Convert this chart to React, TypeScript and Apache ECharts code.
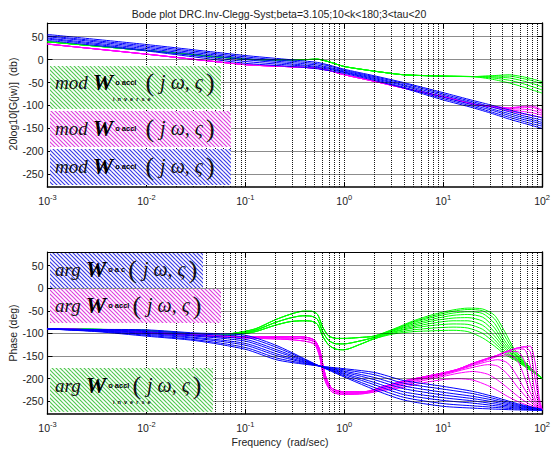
import React, { useEffect, useRef } from 'react';
import * as echarts from 'echarts';

const TITLE = 'Bode plot DRC.Inv-Clegg-Syst;beta=3.105;10<k<180;3<tau<20';
const MAG_NAME = '20log10[G(jw)]  (db)';
const PHASE_NAME = 'Phase (deg)';
const X_NAME = 'Frequency  (rad/sec)';
const Y_TICKS = [-250, -200, -150, -100, -50, 0, 50];
const Y_MIN = -278;
const Y_MAX = 80;
const X_MIN = 0.001;
const X_MAX = 100;

const GREEN = '#00ff00';
const MAGENTA = '#ff00ff';
const BLUE = '#0000ff';

// ---------------- magnitude (dB) ; x given as log10(w)
const MAG_LOGW = [-3, -2, -1, -0.6, -0.4, -0.27, -0.15, 0, 0.3, 0.6, 1.0, 1.3, 1.5, 1.67, 1.8, 1.9, 2.0];
const MAG_BLUE = [
  [55, 33, 9, 1, -3, -6, -12, -21, -35, -50, -72, -89, -100, -110, -117, -122, -127],
  [52, 30, 6, -2, -6, -9, -14, -23, -37, -52, -75, -92, -104, -114, -122, -127, -132],
  [50, 27, 3, -5, -9, -12, -17, -25, -39, -55, -78, -95, -108, -118, -126, -131, -137],
  [47, 24, 0, -8, -12, -15, -19, -27, -41, -57, -82, -99, -111, -122, -130, -135, -141],
  [45, 21, -4, -11, -14, -17, -21, -28, -43, -60, -85, -102, -115, -126, -134, -140, -145],
  [42, 19, -8, -14, -17, -20, -24, -30, -45, -62, -88, -105, -118, -130, -138, -144, -150],
];
const MAG_MAGENTA_LEFT = [34, 12, -11, -15, -17, -19, -24, -33, -47, -62, -81, -97];
const MAG_MAGENTA_RIGHT = [
  [-104, -112, -118, -122, -126],
  [-103, -109, -113, -116, -121],
  [-103, -107, -108, -110, -117],
  [-102, -106, -104, -104, -113],
  [-102, -105, -102, -101, -110],
];
const MAG_GREEN_LEFT = [39, 20, 1, -1, 0, 1, -5, -15, -25, -33, -36, -37];
const MAG_GREEN_RIGHT = [
  [-35, -33, -37, -42, -48],
  [-36, -36, -41, -46, -53],
  [-38, -40, -46, -52, -59],
  [-40, -45, -52, -59, -66],
  [-43, -51, -59, -66, -73],
];

// ---------------- phase (deg)
const PH_BLUE_LOGW = [-3, -2.5, -2, -1.5, -1, -0.67, -0.25, 0.3, 0.6, 1, 1.3, 1.5, 1.75, 2];
const PH_BLUE = [
  [-90, -91, -92, -99, -104, -128, -172, -224, -247, -261, -265, -267, -269, -270],
  [-90, -92, -94, -101, -108, -132, -172, -219, -241, -255, -260, -263, -267, -270],
  [-90, -92, -96, -104, -113, -137, -172, -213, -235, -248, -254, -259, -265, -270],
  [-90, -93, -98, -106, -117, -141, -172, -208, -229, -242, -249, -255, -263, -269],
  [-90, -94, -100, -109, -122, -146, -172, -202, -222, -236, -244, -251, -261, -269],
  [-90, -95, -102, -111, -126, -150, -172, -197, -216, -230, -239, -247, -259, -268],
  [-90, -95, -104, -114, -131, -155, -172, -191, -210, -223, -233, -243, -257, -268],
  [-90, -96, -106, -116, -135, -159, -172, -186, -204, -217, -228, -239, -255, -268],
];

const PH_MAG_LOGW = [-3, -2.5, -2, -1.5, -1, -0.6, -0.4, -0.3, -0.25, -0.22, -0.18, -0.12, 0, 0.2,
  0.4, 0.6, 0.8, 1.0, 1.15, 1.3, 1.45, 1.55, 1.65, 1.75, 1.82, 1.88, 1.93, 1.97, 2.0];
const PH_MAG_LEFT_TOP = [-90, -92, -97, -103, -107, -107, -108, -115, -135, -165, -200, -222, -229, -229];
const PH_MAG_LEFT_MID = [-90, -92, -98, -104, -108, -110, -112, -119, -142, -175, -206, -226, -232, -231];
const PH_MAG_LEFT_BOT = [-90, -93, -99, -105, -110, -113, -117, -124, -150, -185, -212, -230, -235, -233];
const PH_MAG_RIGHT = [
  [-226, -219, -209, -202, -200, -203, -215, -226, -239, -250, -256, -261, -265, -267, -268],
  [-224, -215, -204, -195, -188, -184, -190, -203, -220, -238, -249, -257, -263, -266, -268],
  [-222, -212, -201, -192, -183, -175, -169, -172, -190, -218, -236, -250, -260, -265, -268],
  [-220, -209, -199, -190, -181, -171, -162, -158, -165, -195, -222, -243, -257, -264, -268],
  [-219, -207, -198, -189, -180, -169, -158, -151, -147, -160, -195, -230, -252, -262, -268],
  [-218, -206, -197, -188, -179, -167, -156, -149, -141, -140, -160, -210, -245, -260, -268],
  [-217, -205, -196, -187, -179, -166, -155, -148, -139, -134, -135, -170, -230, -255, -268],
  [-217, -205, -196, -187, -179, -166, -155, -148, -139, -132, -130, -140, -200, -250, -268],
  [-217, -205, -196, -187, -179, -166, -155, -148, -139, -132, -129, -128, -165, -240, -268],
];
const PH_MAG_LEFT_OF = ['bot', 'bot', 'mid', 'mid', 'mid', 'top', 'top', 'top', 'top'];

const PH_GRN_LOGW = [-3, -2.5, -2, -1.5, -1.3, -1.1, -0.9, -0.7, -0.55, -0.42, -0.33, -0.27, -0.22, -0.16, -0.08, 0.0, 0.15, 0.3,
  0.5, 0.7, 0.9, 1.1, 1.25, 1.4, 1.52, 1.62, 1.72, 1.85, 2.0];
const PH_GRN_LEFT_TOP = [-90, -91, -93, -101, -104, -99, -90, -70, -58, -51, -51, -58, -85, -105, -111, -111, -109, -106];
const PH_GRN_LEFT_MID = [-90, -91, -94, -102, -105, -101, -93, -76, -66, -61, -62, -69, -95, -115, -123, -123, -117, -109];
const PH_GRN_LEFT_BOT = [-90, -92, -95, -103, -106, -103, -96, -82, -74, -72, -73, -80, -105, -125, -135, -136, -125, -112];
const PH_GRN_RIGHT = [
  [-101, -96, -94, -93, -96, -110, -128, -146, -158, -177, -199],
  [-99, -92, -88, -86, -88, -100, -121, -142, -156, -176, -199],
  [-97, -88, -82, -79, -80, -91, -114, -138, -154, -175, -199],
  [-96, -85, -77, -72, -72, -82, -106, -133, -152, -174, -199],
  [-94, -82, -72, -66, -65, -73, -97, -128, -150, -173, -199],
  [-93, -79, -68, -60, -58, -64, -88, -122, -147, -172, -199],
  [-92, -76, -64, -55, -52, -56, -78, -115, -144, -171, -199],
  [-91, -74, -61, -51, -47, -50, -68, -105, -140, -170, -199],
  [-90, -72, -58, -48, -44, -46, -60, -95, -135, -168, -199],
];
const PH_GRN_LEFT_OF = ['bot', 'bot', 'bot', 'mid', 'mid', 'mid', 'top', 'top', 'top'];

// ---------------- legend box texts
const LEGENDS_TOP = [
  { pre: 'mod', sub: 'o accl', inv: true, hatch: '#4fc84f' },
  { pre: 'mod', sub: 'o accl', inv: false, hatch: '#de3ede' },
  { pre: 'mod', sub: 'o accl', inv: false, hatch: '#3a3ae6' },
];
const LEGENDS_BOT = [
  { pre: 'arg', sub: 'o a c', inv: false, hatch: '#3a3ae6' },
  { pre: 'arg', sub: 'o accl', inv: false, hatch: '#de3ede' },
  { pre: 'arg', sub: 'o accl', inv: true, hatch: '#4fc84f' },
];
const INV_TEXT = 'i  n  v  e  r  s  e';

const FONT = 'Liberation Sans, Arial, sans-serif';
const SERIF = 'Liberation Serif, Times New Roman, serif';

function toPairs(logw: number[], vals: number[]) {
  return logw.map((l, i) => [Math.pow(10, l), vals[i]]);
}

function hatch(color: string) {
  const c = document.createElement('canvas');
  c.width = 8;
  c.height = 8;
  const ctx = c.getContext('2d')!;
  ctx.fillStyle = '#ffffff';
  ctx.fillRect(0, 0, 8, 8);
  ctx.strokeStyle = color;
  ctx.lineWidth = 1.15;
  for (const o of [-8, -4, 0, 4, 8]) {
    ctx.beginPath();
    ctx.moveTo(o - 1, -1);
    ctx.lineTo(o + 9, 9);
    ctx.stroke();
  }
  return { image: c.toDataURL(), repeat: 'repeat', imageWidth: 8, imageHeight: 8 } as any;
}

function lineSeries(data: number[][], color: string, gi: number, smooth = 0.25) {
  return {
    type: 'line',
    xAxisIndex: gi * 2,
    yAxisIndex: gi * 2,
    data,
    symbol: 'none',
    smooth,
    silent: true,
    clip: true,
    lineStyle: { color, width: 1 },
    emphasis: { disabled: true },
    z: 3,
  };
}

function gridLinesSeries(gi: number) {
  const xs: number[] = [];
  for (let n = -3; n <= 1; n++) {
    for (let k = 1; k <= 9; k++) {
      const v = k * Math.pow(10, n);
      if (v > X_MIN) xs.push(v);
    }
  }
  const data: any[] = [];
  xs.forEach((v) => data.push({ xAxis: v }));
  Y_TICKS.forEach((v) => data.push({ yAxis: v }));
  return {
    type: 'line',
    xAxisIndex: gi * 2,
    yAxisIndex: gi * 2,
    data: [],
    silent: true,
    z: 1,
    markLine: {
      silent: true,
      symbol: ['none', 'none'],
      label: { show: false },
      animation: false,
      lineStyle: { color: '#000', width: 1, type: [1, 1], opacity: 0.9 },
      emphasis: { disabled: true },
      data,
    },
  };
}

function xAxes(gi: number) {
  const gridIndex = gi;
  return [
    {
      type: 'log',
      logBase: 10,
      gridIndex,
      min: X_MIN,
      max: X_MAX,
      position: 'bottom',
      axisLine: { show: true, onZero: false, lineStyle: { color: '#000', width: 1.6 } },
      axisTick: { show: true, inside: true, length: 5, lineStyle: { color: '#000' } },
      splitLine: { show: false },
      minorTick: { show: false },
      axisLabel: {
        margin: 6,
        formatter: (v: number) => `{b|10}{e|${Math.round(Math.log10(v))}}`,
        rich: {
          b: { fontFamily: FONT, fontSize: 10.5, color: '#222' },
          e: { fontFamily: FONT, fontSize: 7.5, color: '#222', padding: [0, 0, 7, 0] },
        },
      },
    },
    {
      type: 'log',
      logBase: 10,
      gridIndex,
      min: X_MIN,
      max: X_MAX,
      position: 'top',
      axisLine: { show: true, onZero: false, lineStyle: { color: '#000', width: 1 } },
      axisTick: { show: true, inside: true, length: 5, lineStyle: { color: '#000' } },
      splitLine: { show: false },
      axisLabel: { show: false },
    },
  ];
}

function yAxes(gi: number) {
  const gridIndex = gi;
  return [
    {
      type: 'value',
      gridIndex,
      min: Y_MIN,
      max: Y_MAX,
      position: 'left',
      axisLine: { show: true, onZero: false, lineStyle: { color: '#000', width: 1.2 } },
      axisTick: { show: true, inside: true, length: 5, customValues: Y_TICKS, lineStyle: { color: '#000' } },
      splitLine: { show: false },
      axisLabel: { customValues: Y_TICKS, margin: 4, fontFamily: FONT, fontSize: 10.5, color: '#222' },
    },
    {
      type: 'value',
      gridIndex,
      min: Y_MIN,
      max: Y_MAX,
      position: 'right',
      axisLine: { show: true, onZero: false, lineStyle: { color: '#000', width: 1.4 } },
      axisTick: { show: true, inside: true, length: 5, customValues: Y_TICKS, lineStyle: { color: '#000' } },
      splitLine: { show: false },
      axisLabel: { show: false },
    },
  ];
}

const BOXES_TOP = [
  { x: 50, y: 66, w: 171, h: 43, ty: 82 },
  { x: 50, y: 111, w: 181, h: 36, ty: 128 },
  { x: 50, y: 149, w: 181, h: 36, ty: 166 },
];
const BOXES_BOT = [
  { x: 50, y: 253, w: 153, h: 35, ty: 269 },
  { x: 50, y: 289, w: 171, h: 34, ty: 305 },
  { x: 50, y: 368, w: 163, h: 44, ty: 385 },
];

function legendGraphics(boxes: any[], legends: any[], narrow: boolean) {
  const out: any[] = [];
  boxes.forEach((b, i) => {
    const lg = legends[i];
    out.push({
      type: 'rect',
      z: 50,
      shape: { x: b.x, y: b.y, width: b.w, height: b.h },
      style: { fill: hatch(lg.hatch), stroke: null },
      silent: true,
    });
    const padSub = narrow ? 3 : 9;
    out.push({
      type: 'text',
      z: 51,
      x: 55,
      y: b.ty,
      silent: true,
      style: {
        text: `{m|${lg.pre}}{w|W}{s|${lg.sub}}{p|(}{j|j ω, ς}{q|)}`,
        verticalAlign: 'middle',
        align: 'left',
        rich: {
          m: { fontFamily: SERIF, fontStyle: 'italic', fontSize: 19, fill: '#111', padding: [0, 5, 0, 0] },
          w: { fontFamily: SERIF, fontStyle: 'italic', fontWeight: 'bold', fontSize: 23, fill: '#000', padding: [0, 2, 0, 0] },
          s: { fontFamily: FONT, fontWeight: 'bold', fontSize: 7.5, fill: '#000', padding: [0, padSub, 0, 0] },
          p: { fontFamily: SERIF, fontSize: 26, fill: '#111', padding: [0, 6, 0, 0] },
          j: { fontFamily: SERIF, fontStyle: 'italic', fontSize: 20, fill: '#111', padding: [0, 3, 0, 0] },
          q: { fontFamily: SERIF, fontSize: 26, fill: '#111' },
        },
      },
    });
    if (lg.inv) {
      out.push({
        type: 'text',
        z: 51,
        x: 113,
        y: b.ty + 17,
        silent: true,
        style: { text: INV_TEXT, fontFamily: FONT, fontWeight: 'bold', fontSize: 5.5, fill: '#000', verticalAlign: 'middle' },
      });
    }
  });
  return out;
}

function buildOption() {
  const series: any[] = [];
  series.push(gridLinesSeries(0));
  series.push(gridLinesSeries(1));

  // magnitude
  MAG_GREEN_RIGHT.forEach((r) => series.push(lineSeries(toPairs(MAG_LOGW, MAG_GREEN_LEFT.concat(r)), GREEN, 0, 0.2)));
  MAG_MAGENTA_RIGHT.forEach((r) => series.push(lineSeries(toPairs(MAG_LOGW, MAG_MAGENTA_LEFT.concat(r)), MAGENTA, 0, 0.2)));
  MAG_BLUE.forEach((r) => series.push(lineSeries(toPairs(MAG_LOGW, r), BLUE, 0, 0.2)));

  // phase
  const grnLeft: any = { top: PH_GRN_LEFT_TOP, mid: PH_GRN_LEFT_MID, bot: PH_GRN_LEFT_BOT };
  PH_GRN_RIGHT.forEach((r, i) => series.push(lineSeries(toPairs(PH_GRN_LOGW, grnLeft[PH_GRN_LEFT_OF[i]].concat(r)), GREEN, 1)));
  const magLeft: any = { top: PH_MAG_LEFT_TOP, mid: PH_MAG_LEFT_MID, bot: PH_MAG_LEFT_BOT };
  PH_MAG_RIGHT.forEach((r, i) => series.push(lineSeries(toPairs(PH_MAG_LOGW, magLeft[PH_MAG_LEFT_OF[i]].concat(r)), MAGENTA, 1)));
  PH_BLUE.forEach((r) => series.push(lineSeries(toPairs(PH_BLUE_LOGW, r), BLUE, 1)));

  const graphic: any[] = [
    ...legendGraphics(BOXES_TOP, LEGENDS_TOP, false),
    ...legendGraphics(BOXES_BOT, LEGENDS_BOT, true),
    {
      type: 'text', x: 279, y: 14, silent: true,
      style: { text: TITLE, fontFamily: FONT, fontSize: 10.5, fill: '#222', align: 'center', verticalAlign: 'middle' },
    },
    {
      type: 'text', x: 280, y: 442, silent: true,
      style: { text: X_NAME, fontFamily: FONT, fontSize: 10.5, fill: '#222', align: 'center', verticalAlign: 'middle' },
    },
    {
      type: 'text', x: 13, y: 104, rotation: Math.PI / 2, silent: true,
      style: { text: MAG_NAME, fontFamily: FONT, fontSize: 10.5, fill: '#222', align: 'center', verticalAlign: 'middle' },
    },
    {
      type: 'text', x: 13, y: 333, rotation: Math.PI / 2, silent: true,
      style: { text: PHASE_NAME, fontFamily: FONT, fontSize: 10.5, fill: '#222', align: 'center', verticalAlign: 'middle' },
    },
  ];

  return {
    animation: false,
    backgroundColor: '#ffffff',
    grid: [
      { left: 47.5, top: 23, width: 498.5, height: 164, containLabel: false },
      { left: 47.5, top: 252, width: 498.5, height: 162, containLabel: false },
    ],
    xAxis: [...xAxes(0), ...xAxes(1)],
    yAxis: [...yAxes(0), ...yAxes(1)],
    series,
    graphic,
  };
}

export default function App() {
  const ref = useRef<HTMLDivElement>(null);
  useEffect(() => {
    const chart = echarts.init(ref.current!, null, { renderer: 'svg' });
    chart.setOption(buildOption() as any);
    return () => chart.dispose();
  }, []);
  return <div ref={ref} style={{ position: 'absolute', left: 0, top: 0, width: 553, height: 450 }} />;
}
